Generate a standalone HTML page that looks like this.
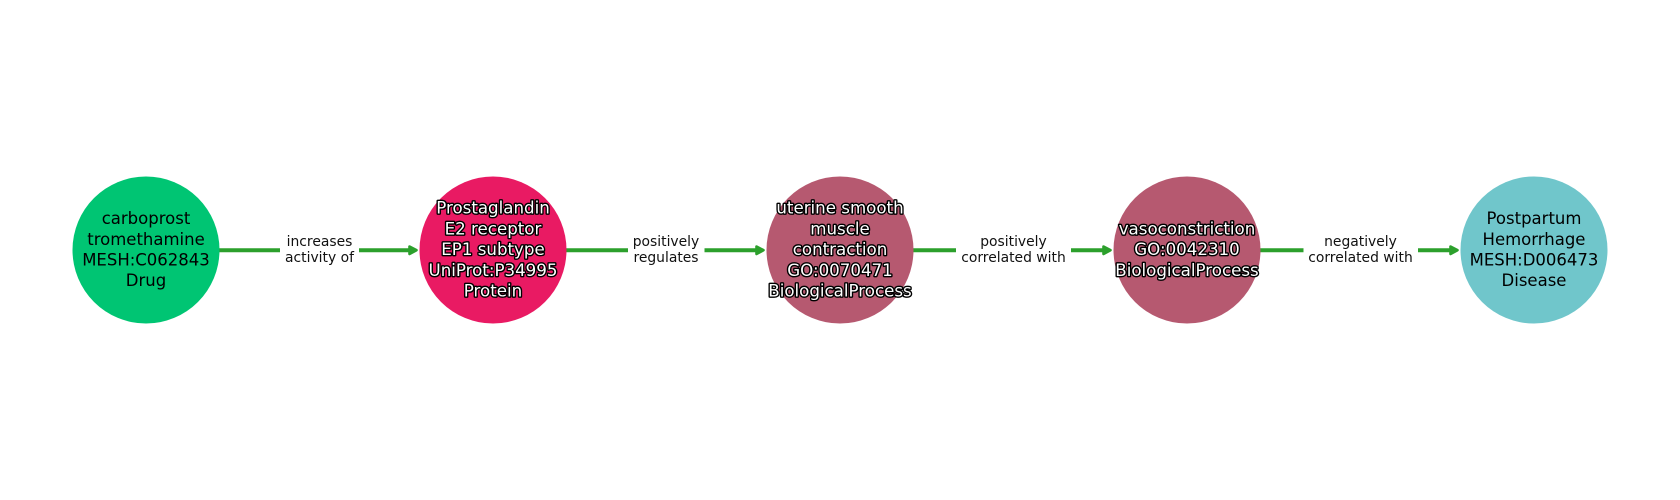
<!DOCTYPE html>
<html><head><meta charset="utf-8"><style>
html,body{margin:0;padding:0;background:#fff}
svg{display:block}
text{font-family:"DejaVu Sans",sans-serif;text-anchor:middle}
.n{font-size:16.5px;fill:#000}
.w{font-size:16.67px;fill:#fff;stroke:#000;stroke-width:2.8px;paint-order:stroke;stroke-linejoin:round}
.e{font-size:13.89px;fill:#111}
</style></head><body>
<svg width="1680" height="500" viewBox="0 0 1680 500" xmlns="http://www.w3.org/2000/svg">
<rect width="1680" height="500" fill="#fff"/>
<g stroke="#2ca02c" stroke-width="4" fill="none">
<path d="M219 250.2H280M359 250.2H410"/>
<path d="M566 250.2H628M704.5 250.2H757"/>
<path d="M913 250.2H956M1071 250.2H1104"/>
<path d="M1260 250.2H1303.5M1418 250.2H1451"/>
</g>
<g fill="#2ca02c" stroke="#2ca02c" stroke-width="2.6" stroke-linejoin="round">
<path d="M409.5 246.5L416.5 250.2L409.5 254Z"/>
<path d="M756.5 246.5L763.5 250.2L756.5 254Z"/>
<path d="M1103.5 246.5L1110.5 250.2L1103.5 254Z"/>
<path d="M1450.5 246.5L1457.5 250.2L1450.5 254Z"/>
</g>
<circle cx="146" cy="250" r="73.5" fill="#00c573"/>
<circle cx="493" cy="250" r="73.5" fill="#e91a63"/>
<circle cx="840" cy="250" r="73.5" fill="#b65970"/>
<circle cx="1187" cy="250" r="73.5" fill="#b65970"/>
<circle cx="1534" cy="250" r="73.5" fill="#70c6cb"/>
<text class="n" x="146" y="224">carboprost</text>
<text class="n" x="146" y="245">tromethamine</text>
<text class="n" x="146" y="265.5">MESH:C062843</text>
<text class="n" x="146" y="286">Drug</text>
<text class="n" x="1534" y="224">Postpartum</text>
<text class="n" x="1534" y="245">Hemorrhage</text>
<text class="n" x="1534" y="265.5">MESH:D006473</text>
<text class="n" x="1534" y="286">Disease</text>
<text class="w" x="493" y="213.5">Prostaglandin</text>
<text class="w" x="493" y="234.5">E2 receptor</text>
<text class="w" x="493" y="255">EP1 subtype</text>
<text class="w" x="493" y="276">UniProt:P34995</text>
<text class="w" x="493" y="296.5">Protein</text>
<text class="w" x="840" y="213.5">uterine smooth</text>
<text class="w" x="840" y="234.5">muscle</text>
<text class="w" x="840" y="255">contraction</text>
<text class="w" x="840" y="276">GO:0070471</text>
<text class="w" x="840" y="296.5">BiologicalProcess</text>
<text class="w" x="1187" y="234.5">vasoconstriction</text>
<text class="w" x="1187" y="255">GO:0042310</text>
<text class="w" x="1187" y="276">BiologicalProcess</text>
<text class="e" x="319.5" y="246">increases</text>
<text class="e" x="319.5" y="262">activity of</text>
<text class="e" x="666" y="246">positively</text>
<text class="e" x="666" y="262">regulates</text>
<text class="e" x="1013.5" y="246">positively</text>
<text class="e" x="1013.5" y="262">correlated with</text>
<text class="e" x="1360.5" y="246">negatively</text>
<text class="e" x="1360.5" y="262">correlated with</text>
</svg>
</body></html>
